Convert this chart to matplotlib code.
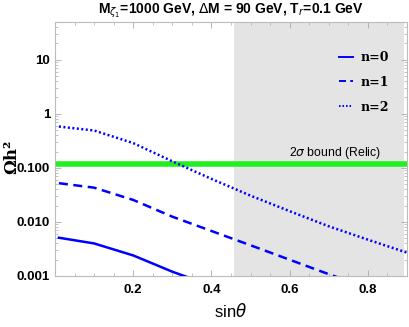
import numpy as np
import matplotlib.pyplot as plt
from matplotlib.ticker import FixedLocator, LogLocator, NullFormatter, MultipleLocator

# sin(theta) sample points and relic abundance for n=0,1,2
sin_th = [0.01, 0.1, 0.2, 0.3, 0.4, 0.5, 0.6, 0.7, 0.8, 0.9]
omega_n0 = [0.0051, 0.0040, 0.0024, 0.0012, 0.00066, 0.00036, 0.0002, 0.00011, 0.00006, 0.000033]
omega_n1 = [0.052, 0.043, 0.0255, 0.0125, 0.0068, 0.0037, 0.0020, 0.00108, 0.0006, 0.00033]
omega_n2 = [0.58, 0.49, 0.287, 0.132, 0.0625, 0.0306, 0.0158, 0.0083, 0.0047, 0.0027]
relic = 0.12
excluded = (0.458, 0.892)

yticks = [0.001, 0.01, 0.1, 1, 10]
ytick_labels = ['0.001', '0.010', '0.100', '1', '10']
xticks = [0.2, 0.4, 0.6, 0.8]

fig = plt.figure(figsize=(4.09, 3.27), dpi=100)
ax = fig.add_axes([0.1345, 0.156, 0.8605, 0.777])

ax.axvspan(excluded[0], excluded[1], color='#e4e4e4', lw=0, zorder=0)
ax.axhline(relic, color='#22ee22', lw=4, zorder=2)

ax.plot(sin_th, omega_n0, color='blue', lw=1.8, label='n=0', zorder=3)
ax.plot(sin_th, omega_n1, color='blue', lw=1.8, ls=(0, (3.6, 2.2)), label='n=1', zorder=3)
ax.plot(sin_th, omega_n2, color='blue', lw=1.8, ls=(0, (0.8, 1.0)), label='n=2', zorder=3)

ax.set_yscale('log')
ax.set_xlim(0, 0.9)
ax.set_ylim(0.001, 50)

ax.yaxis.set_major_locator(FixedLocator(yticks))
ax.set_yticklabels(ytick_labels)
ax.yaxis.set_minor_locator(LogLocator(base=10, subs=np.arange(2, 10)))
ax.yaxis.set_minor_formatter(NullFormatter())
ax.xaxis.set_major_locator(FixedLocator(xticks))
ax.xaxis.set_minor_locator(MultipleLocator(0.05))

for s in ax.spines.values():
    s.set_color('#bbbbbb')
    s.set_linewidth(0.8)
ax.tick_params(which='both', direction='in', top=True, right=True, color='#aaaaaa')
ax.tick_params(which='major', length=4, width=0.6, labelsize=9.5)
ax.tick_params(which='minor', length=2, width=0.5)
ax.tick_params(axis='x', which='major', pad=6)
for lab in ax.get_xticklabels() + ax.get_yticklabels():
    lab.set_fontweight('bold')
    lab.set_family('Liberation Sans')

ax.set_xlabel(r'sin$\theta$', fontsize=12, family='Liberation Sans', labelpad=4)
ax.set_ylabel('Ωh²', fontsize=12, family='DejaVu Serif', fontweight='bold')
ax.yaxis.set_label_coords(-0.1, 0.47)
ax.set_title(r'M$_{\zeta_1}$=1000 GeV, $\Delta$M = 90 GeV, T$_r$=0.1 GeV',
             fontsize=10, fontweight='bold', family='Liberation Sans', pad=6)

ax.text(0.835, 0.135, r'2$\sigma$ bound (Relic)', ha='right', va='bottom',
        fontsize=8.8, family='Liberation Sans')

leg = ax.legend(loc='upper left', bbox_to_anchor=(0.775, 0.93), frameon=False,
                handlelength=1.1, handletextpad=0.6, labelspacing=0.95,
                prop={'family': 'DejaVu Serif', 'weight': 'bold', 'size': 9})
for h in leg.get_lines():
    h.set_linewidth(1.4)

fig.savefig('out.png', dpi=100)
